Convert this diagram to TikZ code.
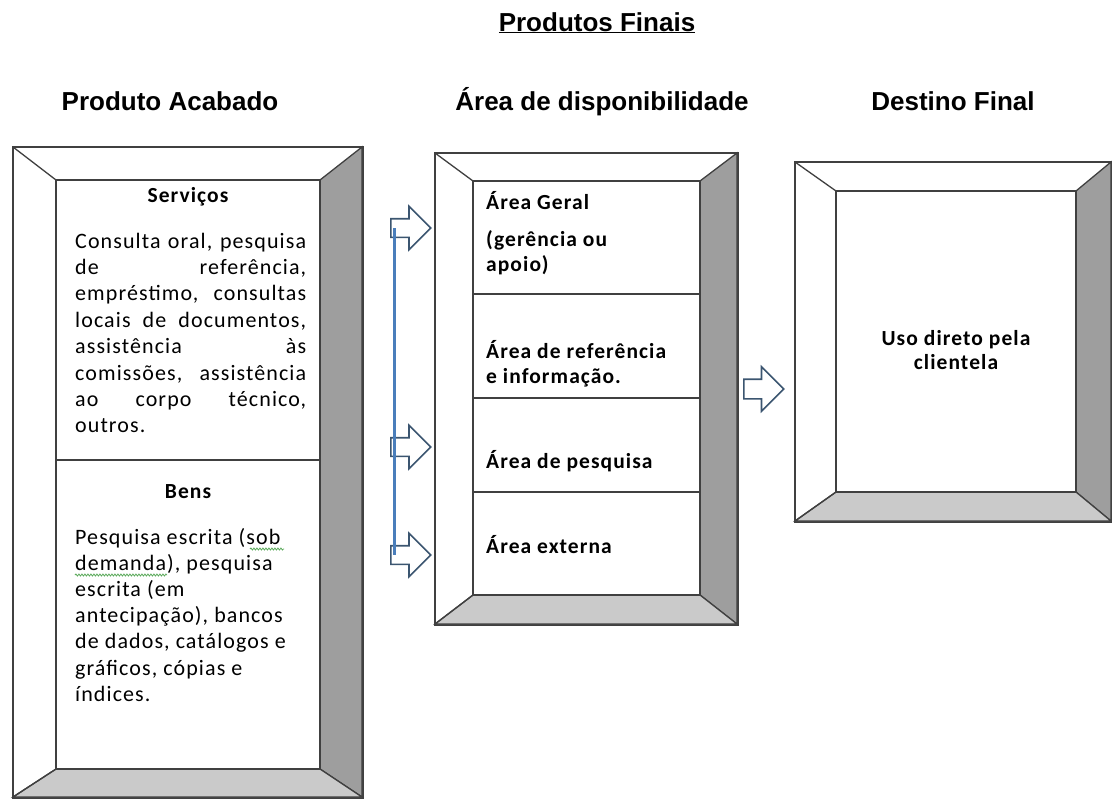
\documentclass[tikz,border=0pt]{standalone}
\usepackage{fontspec}
\setmainfont{Liberation Sans}
\newfontfamily\boxfont[LetterSpace=5]{Carlito}
\usetikzlibrary{shapes.arrows,decorations.pathmorphing}
\definecolor{frameline}{HTML}{404040}
\definecolor{sidegray}{HTML}{9E9E9E}
\definecolor{bottomgray}{HTML}{CACACA}
\definecolor{arrowline}{HTML}{3B5570}
\definecolor{connblue}{HTML}{4A7EBB}
\definecolor{spellgreen}{HTML}{5CAA5C}
\newcommand\jl[1]{\makebox[\linewidth][s]{#1}}
% name, x1,y1,x2,y2 (outer), ix1,iy1,ix2,iy2 (inner)
\newcommand\bevelframe[9]{%
  \node[frame, minimum width={#4-#2}, minimum height={#5-#3}, anchor=north west] (#1) at (#2,#3) {};
  \filldraw[bevelline, fill=sidegray] (#4,#3) -- (#4,#5) -- (#8,#9) -- (#8,#7) -- cycle;
  \filldraw[bevelline, fill=bottomgray] (#2,#5) -- (#4,#5) -- (#8,#9) -- (#6,#9) -- cycle;
  \draw[bevelline] (#2,#3) -- (#6,#7) (#2,#5) -- (#6,#9);
  \draw[bevelline] (#6,#7) rectangle (#8,#9);
  \draw[bevelline] (#1.north west) rectangle (#1.south east);
}
\tikzset{
  frame/.style={draw=frameline, fill=white, line width=1.3pt, inner sep=0pt},
  bevelline/.style={draw=frameline, line width=1.3pt, line join=miter},
  heading/.style={font=\fontsize{26}{30}\selectfont\bfseries, anchor=base, inner sep=0pt},
  boxtxt/.style={anchor=base west, inner sep=0pt, font=\boxfont\fontsize{22}{26.4}\selectfont},
  boxbold/.style={boxtxt, font=\boxfont\fontsize{21.5}{25}\selectfont\bfseries},
  blockarrow/.style={single arrow, draw=arrowline, fill=white, line width=1.6pt,
     minimum height=40pt, minimum width=42pt, inner sep=8.5pt,
     single arrow head extend=12.5pt, anchor=tail},
  divider/.style={draw=frameline, line width=1.3pt},
  spell/.style={draw=spellgreen, line width=0.8pt, decorate,
     decoration={snake, amplitude=1pt, segment length=3pt}}
}
\begin{document}
\begin{tikzpicture}[x=1pt, y=-1pt]
\useasboundingbox (0,0) rectangle (1112,801);

% titles
\node[heading] (title) at (597,31) {\underline{Produtos Finais}};
\node[heading] (h1) at (170,110) {Produto Acabado};
\node[heading] (h2) at (602,110) {Área de disponibilidade};
\node[heading] (h3) at (953,110) {Destino Final};

% frames
\bevelframe{box1}{13}{147}{362}{797}{56}{180}{320}{769}
\bevelframe{box2}{435}{153}{737}{624}{473}{181}{700}{595}
\bevelframe{box3}{795}{162}{1111}{521}{836}{191}{1076}{492}

% dividers
\draw[divider] (56,460) -- (320,460);
\draw[divider] (473,294) -- (700,294);
\draw[divider] (473,398) -- (700,398);
\draw[divider] (473,492) -- (700,492);

% box 1 text
\node[boxbold, anchor=base] (serv) at (188,202) {Serviços};
\node[boxtxt] (servtxt) at (75,248) {\parbox[t]{231pt}{\boxfont\fontsize{22}{26.4}\selectfont
\jl{Consulta oral, pesquisa}\\
\jl{de referência,}\\
\jl{empréstimo, consultas}\\
\jl{locais de documentos,}\\
\jl{assistência às}\\
\jl{comissões, assistência}\\
\jl{ao corpo técnico,}\\
outros.}};
\node[boxbold, anchor=base] (bens) at (188,498) {Bens};
\node[boxtxt] (benstxt) at (75,544) {\parbox[t]{250pt}{\boxfont\fontsize{22}{26.2}\selectfont
Pesquisa escrita (sob\\
demanda), pesquisa\\
escrita (em\\
antecipação), bancos\\
de dados, catálogos e\\
gráficos, cópias e\\
índices.}};
\coordinate (s1a) at (250,549);
\coordinate (s1b) at (284,549);
\coordinate (s2a) at (75,575);
\coordinate (s2b) at (167,575);
\draw[spell] (s1a) -- (s1b);
\draw[spell] (s2a) -- (s2b);

% box 2 text
\node[boxbold] (geral) at (486,209) {Área Geral};
\node[boxbold] (gerencia) at (486,246) {\parbox[t]{210pt}{\boxfont\fontsize{21.5}{25}\selectfont\bfseries (gerência ou\\apoio)}};
\node[boxbold] (ref) at (486,358) {\parbox[t]{215pt}{\boxfont\fontsize{21.5}{25}\selectfont\bfseries Área de referência\\e informação.}};
\node[boxbold] (pesq) at (486,468) {Área de pesquisa};
\node[boxbold] (ext) at (486,553) {Área externa};

% box 3 text
\node[boxbold, anchor=base] (uso) at (956,345) {\parbox[t]{220pt}{\centering\boxfont\fontsize{21.5}{24}\selectfont\bfseries Uso direto pela\\clientela}};

% arrows
\node[blockarrow] (a1) at (390,228) {};
\node[blockarrow] (a2) at (390,447) {};
\node[blockarrow] (a3) at (390,555) {};
\draw[connblue, line width=3pt] ([xshift=4pt]a1.tail) -- ([xshift=4pt]a3.tail);
\node[blockarrow, minimum width=44pt, inner sep=9pt] (a4) at (743,389) {};
\end{tikzpicture}
\end{document}
